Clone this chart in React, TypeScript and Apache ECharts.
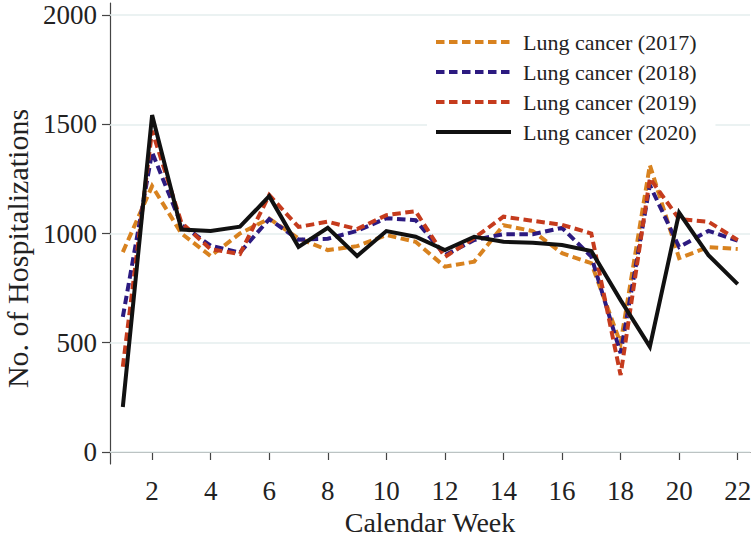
import React, { useEffect, useRef } from "react";
import * as echarts from "echarts";

const weeks = [1, 2, 3, 4, 5, 6, 7, 8, 9, 10, 11, 12, 13, 14, 15, 16, 17, 18, 19, 20, 21, 22];
const lung2017 = [915, 1217, 1000, 897, 1000, 1068, 978, 924, 942, 993, 962, 848, 871, 1038, 1011, 910, 864, 497, 1313, 887, 938, 929];
const lung2018 = [618, 1372, 1040, 944, 913, 1066, 972, 976, 1012, 1070, 1061, 901, 970, 997, 997, 1026, 894, 452, 1221, 938, 1012, 967];
const lung2019 = [390, 1470, 1050, 928, 906, 1176, 1030, 1054, 1020, 1084, 1102, 893, 979, 1077, 1058, 1040, 1000, 352, 1253, 1066, 1054, 970];
const lung2020 = [206, 1542, 1018, 1011, 1031, 1171, 939, 1026, 897, 1011, 985, 924, 985, 962, 958, 947, 920, 695, 482, 1095, 901, 768];
const xTicks = [2, 4, 6, 8, 10, 12, 14, 16, 18, 20, 22];
const yTicks = [0, 500, 1000, 1500, 2000];
const seriesNames = ["Lung cancer (2017)", "Lung cancer (2018)", "Lung cancer (2019)", "Lung cancer (2020)"];

const FONT = "'Liberation Serif', 'Times New Roman', serif";

export default function App() {
  const ref = useRef<HTMLDivElement>(null);
  useEffect(() => {
    if (!ref.current) return;
    const chart = echarts.init(ref.current, null, { renderer: "svg" });
    const pairs = (vals: number[]) => weeks.map((w, i) => [w, vals[i]]);
    const mk = (name: string, vals: number[], color: string, dashed: boolean, z: number) => ({
      name,
      type: "line",
      data: pairs(vals),
      symbol: "none",
      showSymbol: false,
      z,
      lineStyle: { color, width: 4, type: dashed ? [8.5, 4.5] : "solid", cap: "butt", join: "miter" },
      itemStyle: { color },
    });
    const s0: any = mk(seriesNames[0], lung2017, "#d8821f", true, 2);
    s0.markLine = {
      silent: true,
      symbol: "none",
      label: { show: false },
      lineStyle: { color: "#e4eeee", width: 1.5, type: "solid" },
      data: yTicks.map((v) => ({ yAxis: v })),
      z: 1,
    };
    chart.setOption({
      animation: false,
      backgroundColor: "#ffffff",
      textStyle: { fontFamily: FONT },
      grid: { left: 110, right: 2, top: 3, bottom: 73, containLabel: false, outerBoundsMode: "none" },
      legend: {
        left: 427,
        top: 25,
        orient: "vertical",
        backgroundColor: "#ffffff",
        padding: [6, 19, 6, 7],
        itemWidth: 75,
        itemHeight: 22,
        itemGap: 8,
        itemStyle: { opacity: 0 },
        lineStyle: { width: 4 },
        textStyle: { fontFamily: FONT, fontSize: 22, lineHeight: 22, color: "#222", padding: [0, 0, 0, 7] },
        data: seriesNames,
      },
      xAxis: {
        type: "value",
        min: 0.562,
        max: 22.42,
        name: "Calendar Week",
        nameLocation: "middle",
        nameGap: 42,
        nameTextStyle: { fontFamily: FONT, fontSize: 28, color: "#222" },
        axisLine: { show: true, lineStyle: { color: "#444", width: 1.2 } },
        axisTick: { show: true, length: 8, customValues: xTicks, lineStyle: { color: "#444", width: 1.2 } },
        axisLabel: { customValues: xTicks, fontFamily: FONT, fontSize: 27, color: "#222", margin: 13, formatter: (v: number) => String(v) },
        splitLine: { show: false },
      },
      yAxis: {
        type: "value",
        min: -55,
        max: 2055,
        name: "No. of Hospitalizations",
        nameLocation: "middle",
        nameGap: 76,
        nameTextStyle: { fontFamily: FONT, fontSize: 30, color: "#222", padding: [0, 30, 0, 0] },
        axisLine: { show: true, lineStyle: { color: "#444", width: 1.2 } },
        axisTick: { show: true, length: 8, customValues: yTicks, lineStyle: { color: "#444", width: 1.2 } },
        axisLabel: { customValues: yTicks, fontFamily: FONT, fontSize: 27, color: "#222", margin: 13, formatter: (v: number) => String(v) },
        splitLine: { show: false },
      },
      series: [
        s0,
        mk(seriesNames[1], lung2018, "#2c1a80", true, 3),
        mk(seriesNames[2], lung2019, "#c53b1d", true, 4),
        mk(seriesNames[3], lung2020, "#111111", false, 5),
      ],
    });
    return () => chart.dispose();
  }, []);
  return <div ref={ref} style={{ width: 752, height: 537, position: "absolute", left: 0, top: 0 }} />;
}
